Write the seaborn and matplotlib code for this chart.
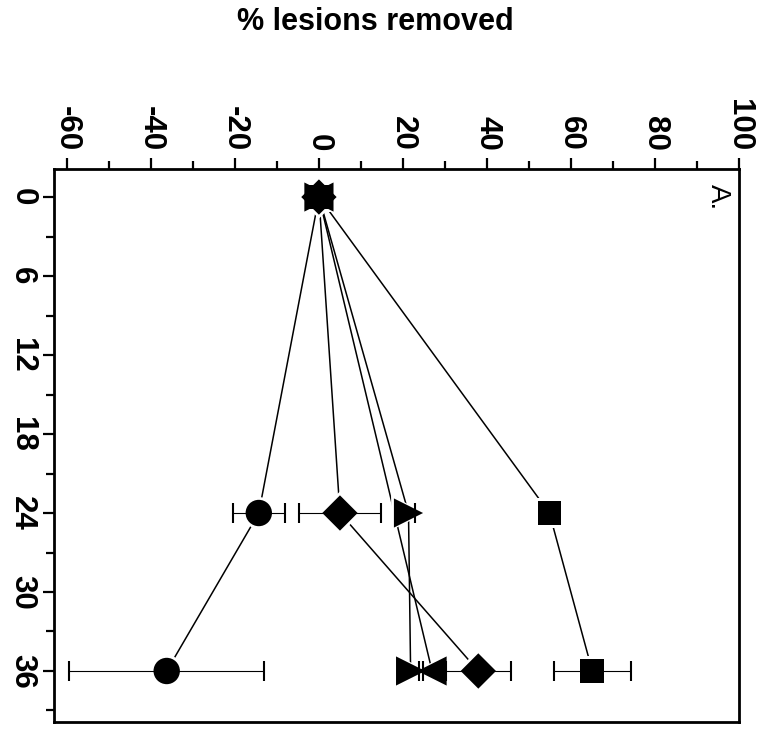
import numpy as np
import matplotlib
matplotlib.use("Agg")
import matplotlib.pyplot as plt
import seaborn as sns

# Follow-up times (months) and mean % lesions removed per group
months = [0, 24, 36]
circle_pct = [0.0, -14.3, -36.2]
circle_err = [0.0, 6.2, 23.2]
diamond_pct = [0.0, 5.0, 37.9]
diamond_err = [0.0, 9.8, 7.8]
tri_right_pct = [0.0, 21.3, 21.8]
tri_right_err = [0.0, 1.5, 3.0]
tri_left_months = [0, 36]
tri_left_pct = [0.0, 26.9]
tri_left_err = [0.0, 3.0]
square_pct = [0.0, 54.8, 65.0]
square_err = [0.0, 2.0, 9.2]

pct_ticks = [-60, -40, -20, 0, 20, 40, 60, 80, 100]
month_ticks = [0, 6, 12, 18, 24, 30, 36]

sns.set_style("white")
plt.rcParams["font.family"] = ["Liberation Sans", "DejaVu Sans"]
plt.rcParams["text.color"] = "black"
plt.rcParams["xtick.color"] = "black"
plt.rcParams["ytick.color"] = "black"
plt.rcParams["axes.labelcolor"] = "black"

fig = plt.figure(figsize=(7.67, 7.30), dpi=100)
ax = fig.add_axes([0.0704, 0.0114, 0.8937, 0.7571])

series = [
    ("circle", months, circle_pct, circle_err, "o", 19),
    ("diamond", months, diamond_pct, diamond_err, "D", 18),
    ("square", months, square_pct, square_err, "s", 17),
    ("tri_right", months, tri_right_pct, tri_right_err, ">", 21),
    ("tri_left", tri_left_months, tri_left_pct, tri_left_err, "<", 21),
]

# connecting lines, each followed by a white halo so lines stop short of markers
for name, t, p, e, m, ms in series:
    sns.lineplot(x=p, y=t, sort=False, estimator=None, color="black",
                 linewidth=1.1, ax=ax, zorder=2)
    sns.scatterplot(x=p, y=t, marker=m, s=(ms + 4) ** 2, color="white",
                    edgecolor="none", linewidth=0, ax=ax, zorder=3)

# error bars
for name, t, p, e, m, ms in series:
    idx = [i for i, v in enumerate(e) if v > 0]
    ax.errorbar([p[i] for i in idx], [t[i] for i in idx],
                xerr=[e[i] for i in idx], fmt="none", ecolor="black",
                elinewidth=0.8, capsize=7, capthick=1.5, zorder=4)

# markers
for name, t, p, e, m, ms in series:
    sns.scatterplot(x=p, y=t, marker=m, s=ms ** 2, color="black",
                    edgecolor="none", linewidth=0, ax=ax, zorder=5)

ax.set_xlim(-63, 100)
ax.set_ylim(39.85, -2.13)

ax.xaxis.tick_top()
ax.set_xticks(pct_ticks)
ax.set_xticklabels([str(v) for v in pct_ticks], rotation=-90,
                   fontweight="bold")
ax.set_xticks(np.arange(-50, 100, 20), minor=True)
ax.set_yticks(month_ticks)
ax.set_yticklabels([str(v) for v in month_ticks], rotation=-90, va="center",
                   fontweight="bold")
ax.set_yticks(np.arange(3, 40, 6), minor=True)

ax.tick_params(axis="both", which="major", length=8, width=1.6,
               labelsize=22.5, color="black", labelcolor="black")
ax.tick_params(axis="x", which="major", pad=5, top=True, bottom=False)
ax.tick_params(axis="y", which="major", pad=4, left=True, right=False)
ax.tick_params(axis="both", which="minor", length=5.5, width=1.6, color="black")
ax.tick_params(axis="x", which="minor", top=True, bottom=False)
ax.tick_params(axis="y", which="minor", left=True, right=False)

for sp in ax.spines.values():
    sp.set_visible(True)
    sp.set_color("black")
    sp.set_linewidth(2.0)

ax.set_xlabel("")
ax.set_ylabel("")

ax.text(0.968, 0.95, "A.", transform=ax.transAxes, rotation=-90,
        ha="center", va="center", fontsize=20, color="black")

fig.text(375 / 767, 1 - 22 / 730, "% lesions removed", ha="center",
         va="center", fontsize=22, fontweight="bold", color="black")

fig.savefig("out.png", dpi=100)
